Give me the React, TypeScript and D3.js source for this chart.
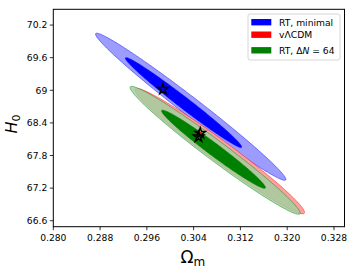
import React from "react";
import * as d3 from "d3";

const W = 354, H = 272;
const seriesNames = ["RT, minimal", "vΛCDM", "RT, ΔN = 64"];
const seriesColors = ["#0000ff", "#ff0000", "#008000"];
const lightColors = ["#9c9cff", "#ffa0a0", "#9fcf9f"];
const lightOpacity = [1, 1, 0.82];
// Gaussian contour parameters (Ωm, H0)
const meanOm68 = [0.30227, 0.30846, 0.3074];
const meanH68 = [68.774, 67.882, 67.915];
const meanOm95 = [0.3035, 0.30846, 0.30769];
const meanH95 = [68.697, 67.882, 67.895];
const sigmaOm = [0.006554, 0.005839, 0.005856];
const sigmaH0 = [0.5449, 0.4647, 0.4739];
const corr = [-0.9875, -0.978, -0.981];
const bestOm = [0.29875, 0.30513, 0.30484];
const bestH0 = [69.02, 68.21, 68.145];
const xTicks = [0.28, 0.288, 0.296, 0.304, 0.312, 0.32, 0.328];
const yTicks = [66.6, 67.2, 67.8, 68.4, 69, 69.6, 70.2];
const chi68 = 2.3, chi95 = 6.17;

const L = 53.3, R = 344.5, T = 9.3, B = 226.7;
const x = d3.scaleLinear().domain([0.28, 0.3298]).range([L, R]);
const y = d3.scaleLinear().domain([66.49, 70.49]).range([B, T]);

function ellipse(i: number, k: number, mo: number, mh: number) {
  const sx = sigmaOm[i], sy = sigmaH0[i], r = corr[i];
  const s = Math.sqrt(k);
  const pts: [number, number][] = d3.range(0, 361, 2).map((deg) => {
    const t = (deg * Math.PI) / 180;
    const c = Math.cos(t), sn = Math.sin(t);
    const om = mo + s * sx * c;
    const h0 = mh + s * (r * sy * c + sy * Math.sqrt(1 - r * r) * sn);
    return [x(om), y(h0)];
  });
  return d3.line().curve(d3.curveLinearClosed)(pts) || "";
}

function star(cx: number, cy: number, ro: number) {
  const ri = ro * 0.381966;
  const pts: [number, number][] = [];
  for (let j = 0; j < 10; j++) {
    const a = -Math.PI / 2 + (j * Math.PI) / 5;
    const rr = j % 2 === 0 ? ro : ri;
    pts.push([cx + rr * Math.cos(a), cy + rr * Math.sin(a)]);
  }
  return d3.line().curve(d3.curveLinearClosed)(pts) || "";
}

const font = "DejaVu Sans, sans-serif";

export default function App() {
  return (
    <svg width={W} height={H} style={{ position: "absolute", left: 0, top: 0 }} fontFamily={font}>
      <rect width={W} height={H} fill="#fff" />
      <defs>
        <clipPath id="plot">
          <rect x={L} y={T} width={R - L} height={B - T} />
        </clipPath>
      </defs>
      <g clipPath="url(#plot)">
        {[0, 1, 2].map((i) => (
          <g key={i}>
            <path d={ellipse(i, chi95, meanOm95[i], meanH95[i])} fill={lightColors[i]} fillOpacity={lightOpacity[i]} stroke={seriesColors[i]} strokeOpacity={0.45} strokeWidth={1} />
            {i !== 1 && (
              <path d={ellipse(i, chi68, meanOm68[i], meanH68[i])} fill={seriesColors[i]} stroke={seriesColors[i]} strokeWidth={0.6} />
            )}
          </g>
        ))}
        <circle cx={x(bestOm[1])} cy={y(bestH0[1])} r={1.2} fill="#ff0000" />
        <path d={star(x(bestOm[1]), y(bestH0[1]), 5.5)} fill="none" stroke="#000" strokeWidth={1.4} />
        <path d={star(x(bestOm[2]), y(bestH0[2]), 5.5)} fill="none" stroke="#000" strokeWidth={1.4} />
        <path d={star(x(bestOm[0]), y(bestH0[0]), 5.5)} fill="none" stroke="#000" strokeWidth={1.4} />
      </g>
      <rect x={L} y={T} width={R - L} height={B - T} fill="none" stroke="#000" strokeWidth={1} />
      {xTicks.map((t) => (
        <g key={t}>
          <line x1={x(t)} x2={x(t)} y1={B} y2={B + 3.5} stroke="#000" strokeWidth={0.8} />
          <text x={x(t)} y={B + 14} fontSize={9.2} textAnchor="middle" fill="#000">{d3.format(".3f")(t)}</text>
        </g>
      ))}
      {yTicks.map((t) => (
        <g key={t}>
          <line x1={L - 3.5} x2={L} y1={y(t)} y2={y(t)} stroke="#000" strokeWidth={0.8} />
          <text x={L - 6} y={y(t) + 3.3} fontSize={9.2} textAnchor="end" fill="#000">{String(t)}</text>
        </g>
      ))}
      <text x={(L + R) / 2 - 6} y={263} fontSize={17} textAnchor="middle" fill="#000">
        Ω<tspan fontSize={12} dy={3}>m</tspan>
      </text>
      <text transform={`translate(17,${(T + B) / 2 + 6}) rotate(-90)`} fontSize={16} textAnchor="middle" fill="#000">
        <tspan fontStyle="italic">H</tspan><tspan fontSize={11} dy={3}>0</tspan>
      </text>
      <g>
        <rect x={248} y={14} width={92} height={46} rx={2} fill="#fff" fillOpacity={0.8} stroke="#cccccc" strokeWidth={0.8} />
        {[22.2, 34.7, 50.3].map((cy, i) => (
          <g key={i}>
            <rect x={251.3} y={cy - 3.2} width={20} height={6.4} fill={seriesColors[i]} />
            <text x={279} y={cy + 3.3} fontSize={9.2} fill="#000">
              {i === 2 ? (
                <>RT, Δ<tspan fontStyle="italic">N</tspan> = 64</>
              ) : (
                seriesNames[i]
              )}
            </text>
          </g>
        ))}
      </g>
    </svg>
  );
}
